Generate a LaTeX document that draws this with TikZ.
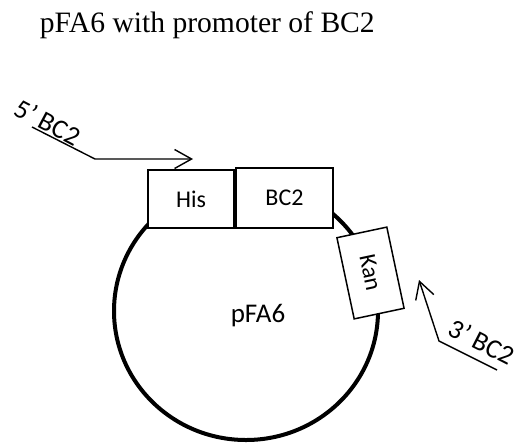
\documentclass[tikz,border=0pt]{standalone}
\usepackage{fontspec}
\setmainfont{Liberation Serif}
\newfontfamily\calfont{Carlito}
\usetikzlibrary{shapes.geometric,arrows.meta}
\tikzset{
  boxnode/.style={draw, fill=white, line width=1.5pt, inner sep=0pt, font=\calfont\fontsize{24}{28}\selectfont},
  primer/.style={line width=1.4pt, -{Straight Barb[length=17pt,width=19pt,line width=1.4pt]}},
  primerlbl/.style={font=\calfont\fontsize{27}{32}\selectfont, inner sep=0pt}
}
\begin{document}
\begin{tikzpicture}[x=1pt,y=-1pt]
\fill[white] (0,0) rectangle (519,445);
\useasboundingbox (0,0) rectangle (519,445);
% title
\node[anchor=base east, inner sep=0pt, font=\fontsize{29.6}{34}\selectfont] (title) at (375,32) {pFA6 with promoter of BC2};
% plasmid
\node[draw, ellipse, line width=4pt, minimum width=264pt, minimum height=258pt, inner sep=0pt] (plasmid) at (246,311) {};
\node[inner sep=0pt, font=\calfont\fontsize{27}{32}\selectfont] (plbl) at (258,316) {pFA6};
% boxes
\node[boxnode, minimum width=86pt, minimum height=58pt] (his) at (191,199) {His};
\node[boxnode, minimum width=97pt, minimum height=60pt] (bc) at (284.5,198) {BC2};
\node[boxnode, rotate=-78, minimum width=83pt, minimum height=51pt] (kan) at (370.5,273) {Kan};
% 5' primer
\coordinate (f1) at (32,127);
\coordinate (f2) at (95,159);
\coordinate (f3) at (193,159);
\draw[primer] (f1) -- (f2) -- (f3);
\node[primerlbl, rotate=-28] (flbl) at (48,122) {5’ BC2};
% 3' primer
\coordinate (r1) at (497,370);
\coordinate (r2) at (439,341);
\coordinate (r3) at (419,280);
\draw[primer] (r1) -- (r2) -- (r3);
\node[primerlbl, rotate=-27] (rlbl) at (482,342) {3’ BC2};
\end{tikzpicture}
\end{document}
